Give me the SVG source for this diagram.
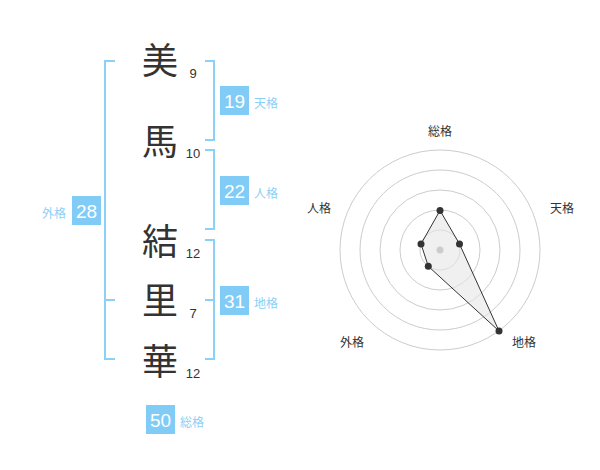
<svg xmlns="http://www.w3.org/2000/svg" width="600" height="470" viewBox="0 0 600 470">
<style>
.ch{font-family:"Noto Sans CJK JP","Noto Sans CJK SC",sans-serif;font-size:36px;fill:#333;text-anchor:middle}
.num{font-family:"Liberation Sans",Arial,sans-serif;font-size:13px;fill:#333;text-anchor:middle}
.box{fill:#80ccf7}
.bn{font-family:"Liberation Sans",Arial,sans-serif;font-size:19px;fill:#fff;text-anchor:middle}
.bl{font-family:"Noto Sans CJK JP","Noto Sans CJK SC",sans-serif;font-size:12px;fill:#8bd0f7}
.br{fill:none;stroke:#8bd0f7;stroke-width:2}
.ring{fill:none;stroke:#ccc;stroke-width:1}
.rl{font-family:"Noto Sans CJK JP","Noto Sans CJK SC",sans-serif;font-size:12px;fill:#333;text-anchor:middle}
.pt{fill:#333}
</style>
<g id="connectors">
<path class="br" d="M115,61 H105 V359 H115 M105,300 H115"/>
<path class="br" d="M205,61 H214 V140 H205"/>
<path class="br" d="M205,150 H214 V229 H205"/>
<path class="br" d="M205,240 H214 V359 H205 M205,300 H214"/>
</g>
<g id="char-mi"><text class="ch" x="160" y="74">美</text><text class="num" x="193" y="78">9</text></g>
<g id="char-ma"><text class="ch" x="160" y="155">馬</text><text class="num" x="193" y="158">10</text></g>
<g id="char-yu"><text class="ch" x="160" y="255">結</text><text class="num" x="193" y="258">12</text></g>
<g id="char-ri"><text class="ch" x="160" y="314">里</text><text class="num" x="193" y="318">7</text></g>
<g id="char-ka"><text class="ch" x="160" y="375">華</text><text class="num" x="193" y="378">12</text></g>
<g id="tenkaku"><rect class="box" x="220" y="86" width="29" height="29"/><text class="bn" x="234.5" y="107.5">19</text><text class="bl" x="254" y="108">天格</text></g>
<g id="jinkaku"><rect class="box" x="220" y="176" width="29" height="29"/><text class="bn" x="234.5" y="197.5">22</text><text class="bl" x="254" y="198">人格</text></g>
<g id="gaikaku"><rect class="box" x="72" y="196" width="29" height="29"/><text class="bn" x="86.5" y="217.5">28</text><text class="bl" x="42" y="218">外格</text></g>
<g id="chikaku"><rect class="box" x="220" y="286" width="29" height="29"/><text class="bn" x="234.5" y="307.5">31</text><text class="bl" x="254" y="308">地格</text></g>
<g id="soukaku"><rect class="box" x="146" y="405" width="29" height="29"/><text class="bn" x="160.5" y="426.5">50</text><text class="bl" x="180" y="427">総格</text></g>
<g id="radar">
<circle class="ring" cx="440" cy="250" r="20"/>
<circle class="ring" cx="440" cy="250" r="40"/>
<circle class="ring" cx="440" cy="250" r="60"/>
<circle class="ring" cx="440" cy="250" r="80"/>
<circle class="ring" cx="440" cy="250" r="100"/>
<polygon points="440,210.5 459.5,244 499,331 428.3,266.3 421,244" fill="#e6e6e6" fill-opacity="0.6" stroke="#333" stroke-width="1"/>
<circle cx="440" cy="250" r="3.5" fill="#ccc"/>
<circle class="pt" cx="440" cy="210.5" r="3.5"/>
<circle class="pt" cx="459.5" cy="244" r="3.5"/>
<circle class="pt" cx="499" cy="331" r="3.5"/>
<circle class="pt" cx="428.3" cy="266.3" r="3.5"/>
<circle class="pt" cx="421" cy="244" r="3.5"/>
<text class="rl" x="440" y="136">総格</text>
<text class="rl" x="562" y="213">天格</text>
<text class="rl" x="319" y="213">人格</text>
<text class="rl" x="352" y="347">外格</text>
<text class="rl" x="524" y="347">地格</text>
</g>
</svg>
